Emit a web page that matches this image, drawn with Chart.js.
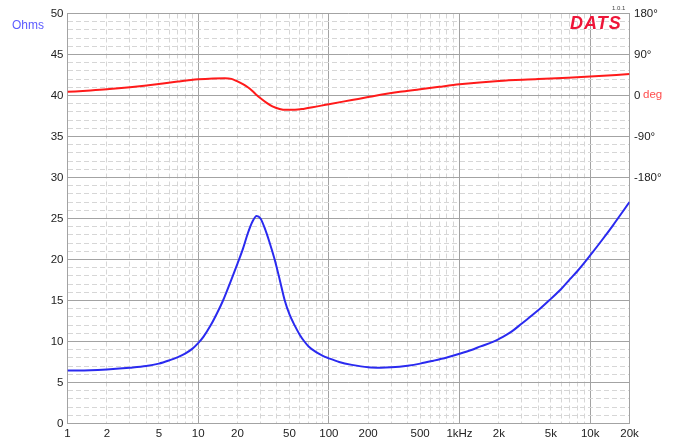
<!DOCTYPE html>
<html>
<head>
<meta charset="utf-8">
<script src="https://cdn.jsdelivr.net/npm/chart.js@4.4.1/dist/chart.umd.min.js"></script>
<style>
  body { margin: 0; background: #fff; }
  #wrap { position: relative; width: 681px; height: 442px; font-family: "Liberation Sans", Arial, sans-serif; }
  canvas { position: absolute; left: 0; top: 0; }
  .lbl { position: absolute; white-space: nowrap; line-height: 1; }
</style>
</head>
<body>
<div id="wrap">
  <canvas id="chart" width="681" height="442"></canvas>
  <div class="lbl" style="left:12px;top:19px;font-size:12px;color:#5c5cff;">Ohms</div>
  <div class="lbl" style="left:643px;top:89px;font-size:11.5px;color:#ff4d4d;">deg</div>
  <div class="lbl" style="left:570px;top:14px;font-size:18px;font-weight:bold;font-style:italic;color:#ee1538;letter-spacing:1px;">DATS</div>
  <div class="lbl" style="left:612px;top:5px;font-size:6px;color:#444;">1.0.1</div>
</div>
<script>
// impedance magnitude (Ohms)
const impFreq = [1, 1.5, 2, 3, 4, 5, 6, 7, 8, 9, 10, 11, 12.5, 14, 15.5, 17.5, 20, 22, 24, 26, 28, 30, 32, 35, 38.5, 42, 46, 50, 55, 60, 65, 70, 80, 90, 100, 120, 150, 200, 250, 300, 400, 500, 630, 800, 1000, 1250, 1450, 1800, 2000, 2500, 3000, 4000, 5000, 6000, 7000, 8000, 10000, 12500, 15000, 20000];
const impOhms = [6.45, 6.5, 6.6, 6.8, 7.0, 7.3, 7.7, 8.1, 8.55, 9.1, 9.8, 10.6, 12.0, 13.5, 15.0, 17.1, 19.5, 21.3, 23.2, 24.6, 25.3, 25.0, 24.0, 22.2, 20.0, 17.6, 15.0, 13.3, 11.9, 10.8, 10.0, 9.4, 8.7, 8.25, 7.95, 7.5, 7.15, 6.85, 6.8, 6.85, 7.05, 7.3, 7.65, 8.05, 8.5, 9.0, 9.4, 9.95, 10.3, 11.2, 12.2, 13.8, 15.2, 16.4, 17.6, 18.6, 20.5, 22.5, 24.2, 27.0];

// phase (degrees)
const phaseFreq = [1, 1.5, 2, 3, 5, 7, 10, 13, 16, 18, 20, 22, 24, 26, 28, 30, 33, 37, 42, 47, 55, 65, 75, 100, 150, 200, 350, 500, 700, 1000, 2000, 4000, 5000, 10000, 20000];
const phaseDeg = [8, 11, 13.5, 18, 25, 30.5, 35.5, 37.5, 38, 36.5, 31, 25, 18, 10, 1, -6, -15, -24, -29.5, -31.5, -31.5, -29, -26, -19, -10, -3.5, 8, 13.5, 19, 24.5, 32, 36, 37.5, 41.5, 47];

// axis labels
const freqLabelValues = [1, 2, 5, 10, 20, 50, 100, 200, 500, 1000, 2000, 5000, 10000, 20000];
const freqLabelText = ["1", "2", "5", "10", "20", "50", "100", "200", "500", "1kHz", "2k", "5k", "10k", "20k"];
const phaseTickValues = [-180, -90, 0, 90, 180];
const phaseTickText = ["-180°", "-90°", "0", "90°", "180°"];

// grid ticks at 1..9 per decade
const freqGrid = [];
for (let d = 1; d <= 10000; d *= 10) {
  for (let m = 1; m <= 9; m++) {
    if (m * d <= 20000) freqGrid.push(m * d);
  }
}

const MAJOR = "#a3a3a3";
const MINOR = "#d6d6d6";
const tickFont = { family: "'Liberation Sans', Arial, sans-serif", size: 11.5 };

function isDecade(v) {
  const m = v / Math.pow(10, Math.floor(Math.log10(v) + 1e-9));
  return Math.abs(m - 1) < 1e-6;
}

new Chart(document.getElementById("chart"), {
  type: "line",
  data: {
    datasets: [
      {
        data: impFreq.map((f, i) => ({ x: f, y: impOhms[i] })),
        borderColor: "#2a2af0",
        borderWidth: 2,
        pointRadius: 0,
        cubicInterpolationMode: "monotone",
        yAxisID: "y"
      },
      {
        data: phaseFreq.map((f, i) => ({ x: f, y: phaseDeg[i] })),
        borderColor: "#ff1a1a",
        borderWidth: 2,
        pointRadius: 0,
        cubicInterpolationMode: "monotone",
        yAxisID: "y2"
      }
    ]
  },
  options: {
    responsive: false,
    animation: false,
    layout: { padding: { top: 13.5, left: 0, right: 0, bottom: 0 } },
    plugins: { legend: { display: false }, tooltip: { enabled: false } },
    scales: {
      x: {
        type: "logarithmic",
        min: 1,
        max: 20000,
        afterBuildTicks: (scale) => { scale.ticks = freqGrid.map((v) => ({ value: v })); },
        afterFit: (scale) => { scale.height = 18.5; },
        ticks: {
          autoSkip: false,
          maxRotation: 0,
          padding: 3,
          color: "#222",
          font: tickFont,
          callback: (v) => {
            const i = freqLabelValues.indexOf(v);
            return i >= 0 ? freqLabelText[i] : "";
          }
        },
        grid: {
          drawTicks: false,
          color: (ctx) => (ctx.tick && isDecade(ctx.tick.value) ? MAJOR : MINOR)
        },
        border: {
          display: true,
          color: MAJOR,
          dash: (ctx) => (ctx.tick && !isDecade(ctx.tick.value) ? [5, 3] : [])
        }
      },
      y: {
        position: "left",
        min: 0,
        max: 50,
        afterFit: (scale) => { scale.width = 67.5; },
        ticks: {
          stepSize: 1,
          autoSkip: false,
          padding: 4,
          color: "#222",
          font: tickFont,
          callback: (v) => (v % 5 === 0 ? String(v) : "")
        },
        grid: {
          drawTicks: false,
          color: (ctx) => (ctx.tick && ctx.tick.value % 5 === 0 ? MAJOR : MINOR)
        },
        border: {
          display: true,
          color: MAJOR,
          dash: (ctx) => (ctx.tick && ctx.tick.value % 5 !== 0 ? [5, 3] : [])
        }
      },
      y2: {
        position: "right",
        min: -720,
        max: 180,
        afterBuildTicks: (scale) => { scale.ticks = phaseTickValues.map((v) => ({ value: v })); },
        afterFit: (scale) => { scale.width = 51.5; },
        ticks: {
          autoSkip: false,
          padding: 4.5,
          color: "#222",
          font: tickFont,
          callback: (v) => {
            const i = phaseTickValues.indexOf(v);
            return i >= 0 ? phaseTickText[i] : "";
          }
        },
        grid: { display: false, drawTicks: false },
        border: { display: true, color: MAJOR }
      }
    }
  }
});
</script>
</body>
</html>
